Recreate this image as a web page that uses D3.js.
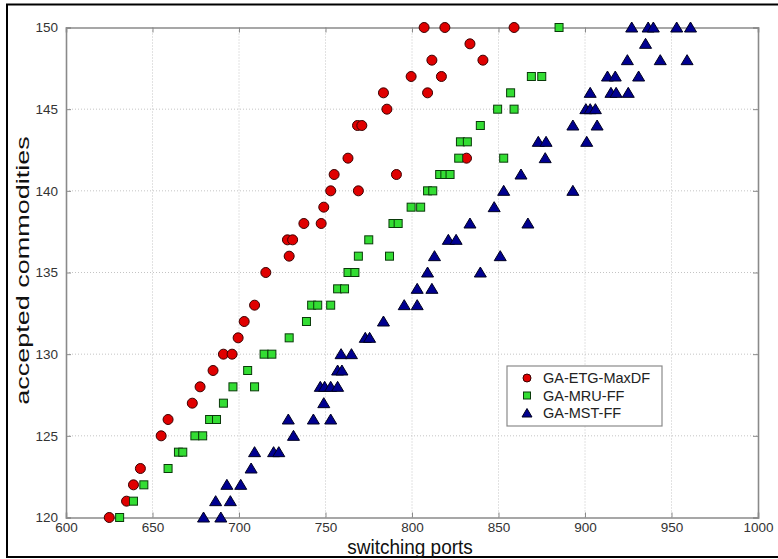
<!DOCTYPE html>
<html>
<head>
<meta charset="utf-8">
<script src="https://cdn.jsdelivr.net/npm/d3@7"></script>
<style>
  html, body { margin: 0; padding: 0; background: #fff; }
  svg { display: block; }
  text { font-family: Arial, "Liberation Sans", Helvetica, sans-serif; }
</style>
</head>
<body>
<svg id="chart" width="778" height="559"></svg>
<script>
// GA-ETG-MaxDF: switching ports vs. accepted commodities
const etgPorts    = [625, 635, 639, 643, 655, 659, 673, 677.5, 685, 691, 696, 699.5, 703, 709, 715.5, 729, 728, 731, 737.5, 747.5, 749, 753, 769, 755, 791, 763, 831.5, 768.5, 771, 785.5, 783.5, 809, 799.5, 817, 811.5, 841, 833.5, 807, 819, 859];
const etgAccepted = [120, 121, 122, 123, 125, 126, 127, 128, 129, 130, 130, 131, 132, 133, 135, 136, 137, 137, 138, 138, 139, 140, 140, 141, 141, 142, 142, 144, 144, 145, 146, 146, 147, 147, 148, 148, 149, 150, 150, 150];

// GA-MRU-FF
const mruPorts    = [631, 639, 645, 659, 665, 667.5, 674.5, 679, 683, 687, 691, 696.5, 709, 705, 714.5, 719, 729, 739, 742, 745.5, 753, 757, 761, 763, 767, 769, 787, 775, 789, 792, 799.5, 805, 809, 812, 816, 819, 822, 827, 853, 828, 832, 839.5, 849.5, 859, 857, 869, 875, 885];
const mruAccepted = [120, 121, 122, 123, 124, 124, 125, 125, 126, 126, 127, 128, 128, 129, 130, 130, 131, 132, 133, 133, 133, 134, 134, 135, 135, 136, 136, 137, 138, 138, 139, 139, 140, 140, 141, 141, 141, 142, 142, 143, 143, 144, 145, 145, 146, 147, 147, 150];

// GA-MST-FF
const mstPorts    = [679.5, 689.5, 686.5, 695, 693, 701, 707, 709, 720, 723, 731.5, 728.5, 743, 753, 749, 747, 749.5, 753, 757, 757, 759.5, 759, 765, 773, 775.5, 783.5, 795.5, 803, 803, 811.5, 809, 839.5, 813, 851, 821, 825.5, 833.5, 867, 847.5, 853, 893, 863, 877, 873, 877.5, 901, 893, 907, 900.5, 903, 906, 903, 915, 918, 925, 913, 917.5, 931, 924.5, 943.5, 959, 935, 927, 936.5, 939.5, 953, 961];
const mstAccepted = [120, 120, 121, 121, 122, 122, 123, 124, 124, 124, 125, 126, 126, 126, 127, 128, 128, 128, 128, 129, 129, 130, 130, 131, 131, 132, 133, 133, 134, 134, 135, 135, 136, 136, 137, 137, 138, 138, 139, 140, 140, 141, 142, 143, 143, 143, 144, 144, 145, 145, 145, 146, 146, 146, 146, 147, 147, 147, 148, 148, 148, 149, 150, 150, 150, 150, 150];

const seriesNames = ["GA-ETG-MaxDF", "GA-MRU-FF", "GA-MST-FF"];
const xTicks = [600, 650, 700, 750, 800, 850, 900, 950, 1000];
const yTicks = [120, 125, 130, 135, 140, 145, 150];

const svg = d3.select("#chart");
const W = 778, H = 559;
const m = { left: 66, top: 27.5, right: 20, bottom: 41.5 };
const iw = W - m.left - m.right, ih = H - m.top - m.bottom;

// outer figure frame
svg.append("path")
  .attr("d", `M790,4.5 L7,4.5 L7,557 L790,557`)
  .attr("fill", "none").attr("stroke", "#000").attr("stroke-width", 2);

const x = d3.scaleLinear().domain([600, 1000]).range([0, iw]);
const y = d3.scaleLinear().domain([120, 150]).range([ih, 0]);

const g = svg.append("g").attr("transform", `translate(${m.left},${m.top})`);

// dotted grid
g.append("g").selectAll("line").data(xTicks.slice(1, -1)).join("line")
  .attr("x1", d => x(d)).attr("x2", d => x(d)).attr("y1", 0).attr("y2", ih)
  .attr("stroke", "#c4c4c4").attr("stroke-width", 1).attr("stroke-dasharray", "1,2");
g.append("g").selectAll("line").data(yTicks.slice(1, -1)).join("line")
  .attr("y1", d => y(d)).attr("y2", d => y(d)).attr("x1", 0).attr("x2", iw)
  .attr("stroke", "#c4c4c4").attr("stroke-width", 1).attr("stroke-dasharray", "1,2");

// axes with inward ticks
const axisColor = "#8a8a8a";
const xAxis = g.append("g").attr("transform", `translate(0,${ih})`)
  .call(d3.axisBottom(x).tickValues(xTicks).tickSize(-5).tickPadding(5).tickFormat(d3.format("d")));
const xAxisTop = g.append("g")
  .call(d3.axisTop(x).tickValues(xTicks).tickSize(-5).tickFormat(""));
const yAxis = g.append("g")
  .call(d3.axisLeft(y).tickValues(yTicks).tickSize(-5).tickPadding(8).tickFormat(d3.format("d")));
const yAxisRight = g.append("g").attr("transform", `translate(${iw},0)`)
  .call(d3.axisRight(y).tickValues(yTicks).tickSize(-5).tickFormat(""));
[xAxis, xAxisTop, yAxis, yAxisRight].forEach(a => {
  a.selectAll(".domain").attr("stroke", axisColor).attr("stroke-width", 1.6);
  a.selectAll(".tick line").attr("stroke", axisColor);
  a.selectAll("text").attr("fill", "#333").style("font-size", "13.5px")
    .style("font-family", "Arial, 'Liberation Sans', sans-serif");
});

// axis titles (tall, narrow lettering)
svg.append("text")
  .attr("transform", `translate(${m.left + iw / 2 - 2},553.5) scale(1,1.08)`)
  .attr("text-anchor", "middle").attr("fill", "#111")
  .style("font-size", "19px")
  .text("switching ports");
svg.append("text")
  .attr("transform", `translate(29,${m.top + ih / 2 - 2}) rotate(-90) scale(1.42,1)`)
  .attr("text-anchor", "middle").attr("fill", "#111")
  .style("font-size", "19px")
  .text("accepted commodities");

// marker shapes
const tri = "M0,-5.5L6,4.5L-6,4.5Z";
const styles = [
  { fill: "#e00000", stroke: "#3a0000" },
  { fill: "#33dd33", stroke: "#0a3a0a" },
  { fill: "#000090", stroke: "#000020" }
];

function drawCircles(xs, ys, st) {
  g.append("g").selectAll("circle").data(d3.zip(xs, ys)).join("circle")
    .attr("cx", d => x(d[0])).attr("cy", d => y(d[1])).attr("r", 5)
    .attr("fill", st.fill).attr("stroke", st.stroke).attr("stroke-width", 1);
}
function drawSquares(xs, ys, st) {
  g.append("g").selectAll("rect").data(d3.zip(xs, ys)).join("rect")
    .attr("x", d => x(d[0]) - 4).attr("y", d => y(d[1]) - 4)
    .attr("width", 8).attr("height", 8)
    .attr("fill", st.fill).attr("stroke", st.stroke).attr("stroke-width", 1);
}
function drawTriangles(xs, ys, st) {
  g.append("g").selectAll("path").data(d3.zip(xs, ys)).join("path")
    .attr("d", tri)
    .attr("transform", d => `translate(${x(d[0])},${y(d[1])})`)
    .attr("fill", st.fill).attr("stroke", st.stroke).attr("stroke-width", 1);
}
drawCircles(etgPorts, etgAccepted, styles[0]);
drawSquares(mruPorts, mruAccepted, styles[1]);
drawTriangles(mstPorts, mstAccepted, styles[2]);

// legend
const lg = svg.append("g").attr("transform", "translate(507,366)");
lg.append("rect").attr("width", 155).attr("height", 60)
  .attr("fill", "#fff").attr("stroke", "#8a8a8a").attr("stroke-width", 1.2);
seriesNames.forEach((name, i) => {
  const cy = 12 + i * 17.5, cx = 20;
  if (i === 0) lg.append("circle").attr("cx", cx).attr("cy", cy).attr("r", 4)
    .attr("fill", styles[0].fill).attr("stroke", styles[0].stroke);
  if (i === 1) lg.append("rect").attr("x", cx - 3.5).attr("y", cy - 3.5).attr("width", 7).attr("height", 7)
    .attr("fill", styles[1].fill).attr("stroke", styles[1].stroke);
  if (i === 2) lg.append("path").attr("d", "M0,-4.5L5,4L-5,4Z")
    .attr("transform", `translate(${cx},${cy})`)
    .attr("fill", styles[2].fill).attr("stroke", styles[2].stroke);
  lg.append("text").attr("x", 36).attr("y", cy + 5)
    .attr("fill", "#222").style("font-size", "14.5px").text(name);
});
</script>
</body>
</html>
